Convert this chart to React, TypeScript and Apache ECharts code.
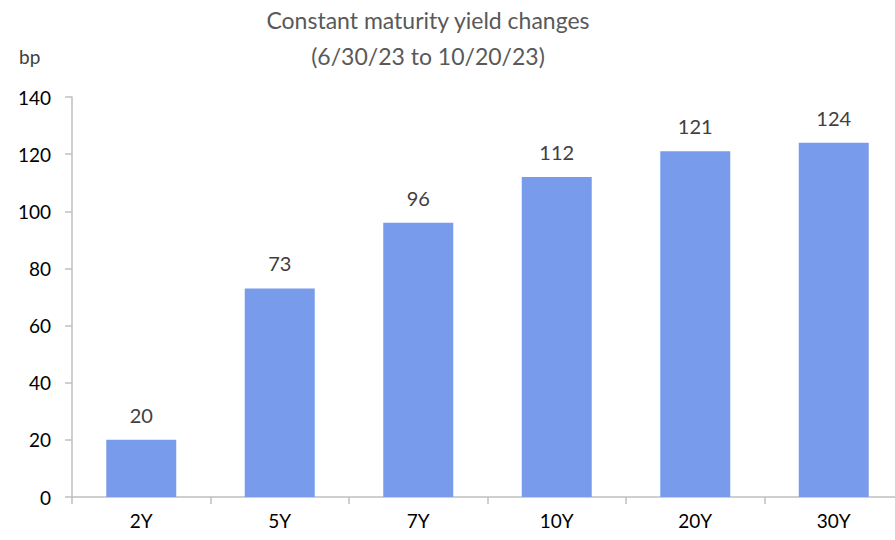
import React, { useEffect, useRef } from "react";
import * as echarts from "echarts";

const categories = ["2Y", "5Y", "7Y", "10Y", "20Y", "30Y"];
const values = [20, 73, 96, 112, 121, 124];
const titleLines = ["Constant maturity yield changes", "(6/30/23 to 10/20/23)"];
const yUnit = "bp";

const FONT = "Lato, 'Open Sans', sans-serif";

export default function App() {
  const ref = useRef<HTMLDivElement>(null);
  useEffect(() => {
    document.body.style.margin = "0";
    const chart = echarts.init(ref.current!, null, { renderer: "svg" });
    chart.setOption({
      animation: false,
      backgroundColor: "#ffffff",
      textStyle: { fontFamily: FONT },
      title: {
        text: titleLines.join("\n"),
        left: 423,
        top: -3,
        textAlign: "center",
        textStyle: {
          fontFamily: FONT,
          fontSize: 23,
          fontWeight: "normal",
          color: "#595959",
          lineHeight: 36,
        },
      },
      graphic: [
        {
          type: "text",
          left: 19,
          top: 47,
          style: { text: yUnit, fontFamily: FONT, fontSize: 19, fill: "#404040" },
        },
      ],
      grid: { left: 72, right: 0, top: 97, bottom: 43, containLabel: false },
      xAxis: {
        type: "category",
        data: categories,
        axisLine: { lineStyle: { color: "#bfbfbf", width: 1.5 } },
        axisTick: { show: true, alignWithLabel: false, length: 7, lineStyle: { color: "#bfbfbf", width: 1.5 } },
        axisLabel: { color: "#000000", fontSize: 19, fontFamily: FONT, margin: 14 },
      },
      yAxis: {
        type: "value",
        min: 0,
        max: 140,
        interval: 20,
        axisLine: { show: true, lineStyle: { color: "#bfbfbf", width: 1.5 } },
        axisTick: { show: true, length: 7, lineStyle: { color: "#bfbfbf", width: 1.5 } },
        splitLine: { show: false },
        axisLabel: { color: "#000000", fontSize: 19, fontFamily: FONT, margin: 21 },
      },
      series: [
        {
          type: "bar",
          data: values,
          barWidth: 70,
          itemStyle: { color: "#789CEB" },
          label: {
            show: true,
            position: "top",
            distance: 15,
            color: "#404040",
            fontSize: 20,
            fontFamily: FONT,
          },
        },
      ],
    });
    return () => chart.dispose();
  }, []);
  return (
    <div style={{ width: 895, height: 540, overflow: "hidden", position: "relative" }}>
      <div ref={ref} style={{ width: 903, height: 540 }} />
    </div>
  );
}
